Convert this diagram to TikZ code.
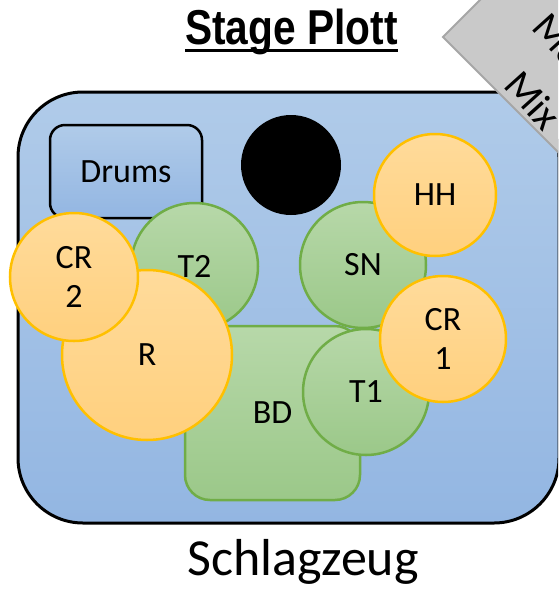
\documentclass[tikz,border=0pt]{standalone}
\usepackage{fontspec}
\setmainfont{Carlito}
\newfontfamily\titlefont[FakeStretch=0.83]{Liberation Sans}
\definecolor{bgtop}{HTML}{B0CBE9}
\definecolor{bgbot}{HTML}{93B6E2}
\definecolor{grtop}{HTML}{B7D8A9}
\definecolor{grbot}{HTML}{9BC889}
\definecolor{grline}{HTML}{70AD47}
\definecolor{ortop}{HTML}{FFDB9B}
\definecolor{orbot}{HTML}{FFD07E}
\definecolor{orline}{HTML}{FFC000}
\definecolor{dfill}{HTML}{C9C9C9}
\definecolor{dline}{HTML}{A6A6A6}
\begin{document}
\begin{tikzpicture}[x=1pt,y=-1pt,
  lbl/.style={font=\fontsize{34}{39}\selectfont, align=center, text=black},
  greencirc/.style={circle, draw=grline, line width=2.5pt, top color=grtop, bottom color=grbot, inner sep=0pt, lbl},
  orcirc/.style={circle, draw=orline, line width=2.5pt, top color=ortop, bottom color=orbot, inner sep=0pt, lbl},
  bluebox/.style={rectangle, draw=black, top color=bgtop, bottom color=bgbot, inner sep=0pt},
  greenbox/.style={rectangle, draw=grline, line width=2.5pt, top color=grtop, bottom color=grbot, inner sep=0pt, rounded corners=25pt, lbl},
  mixtext/.style={rotate=-48, anchor=base west, inner sep=0pt, font=\fontsize{41}{45}\selectfont}
]
\useasboundingbox (0,0) rectangle (558,590);
\clip (0,0) rectangle (558,590);
\fill[white] (0,0) rectangle (558,590);
% stage area
\node[bluebox, line width=3pt, rounded corners=65pt, minimum width=541pt, minimum height=431pt] (stage) at (288.5,307.5) {};
% drums label box
\node[bluebox, line width=2.5pt, rounded corners=15pt, minimum width=152pt, minimum height=93pt, lbl] (drums) at (126,171.5) {Drums};
% black circle
\node[circle, fill=black, inner sep=0pt, minimum size=100pt] (dot) at (291,165) {};
% drums
\node[greencirc, minimum size=127pt] (t2) at (194.5,266.5) {T2};
\node[greencirc, minimum size=126pt] (sn) at (363,265) {SN};
\node[greenbox, minimum width=175pt, minimum height=174pt] (bd) at (272.5,413) {BD};
\node[greencirc, minimum size=126pt] (t1) at (366,392) {T1};
\node[orcirc, minimum size=170pt] (r) at (147,355) {R};
\node[orcirc, minimum size=128pt] (cr2) at (74,277) {CR\\2};
\node[orcirc, minimum size=122pt] (hh) at (435,195) {HH};
\node[orcirc, minimum size=126pt] (cr1) at (443,339) {CR\\1};
% grey diamond
\filldraw[fill=dfill, draw=dline, line width=2pt] (443,37) -- (593,-113) -- (743,37) -- (593,187) -- cycle;
\node[mixtext] (mon) at (530,28) {Monitor};
\node[mixtext] (mix) at (502,86) {Mix};
% title
\node[anchor=base, inner sep=0pt, font=\titlefont\bfseries\fontsize{49}{55}\selectfont] (title) at (291.5,44) {Stage Plott};
\draw[line width=3pt] ([yshift=-6.5pt]title.base west) -- ([yshift=-6.5pt]title.base east);
% caption
\node[anchor=base, inner sep=0pt, font=\fontsize{52}{58}\selectfont] (cap) at (303,575) {Schlagzeug};
\end{tikzpicture}
\end{document}
